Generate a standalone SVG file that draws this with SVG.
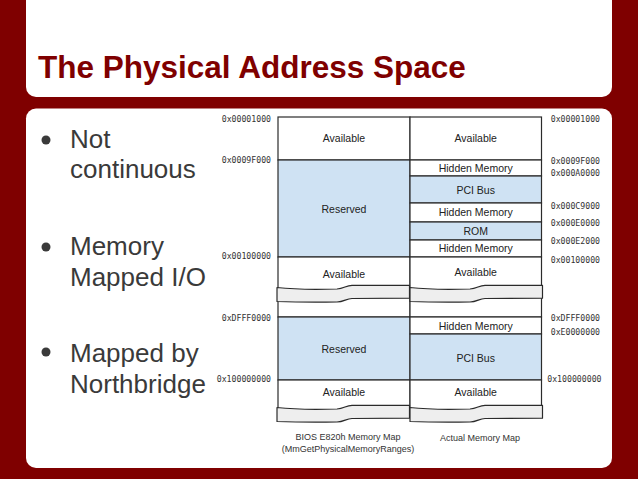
<svg xmlns="http://www.w3.org/2000/svg" width="638" height="479" viewBox="0 0 638 479">
<style>
.bg{fill:#7f0000}
.panel{fill:#ffffff}
.title{font-family:"Liberation Sans",Arial,sans-serif;font-weight:bold;font-size:31.5px;fill:#7f0000}
.body{font-family:"Liberation Sans",Arial,sans-serif;font-size:26px;fill:#3a3a3a}
.dot{fill:#3a3a3a}
.cell{stroke:#2b2b2b;stroke-width:1.2}
.w{fill:#ffffff}
.b{fill:#cfe2f3}
.lbl{font-family:"Liberation Sans",Arial,sans-serif;font-size:10.5px;fill:#222;text-anchor:middle}
.addr{font-family:"DejaVu Sans Mono","Liberation Mono",monospace;font-size:8.2px;fill:#333;text-anchor:end}
.brk{fill:#eeeeee;stroke:#2b2b2b;stroke-width:1.2;stroke-linejoin:round}
.cap{font-family:"Liberation Sans",Arial,sans-serif;font-size:9px;fill:#333;text-anchor:middle}
</style>
<defs>
<path id="brk" d="M277,287.5 C290,289 320,289.5 337,289 C344,288.5 346,285.5 352,285.3 L409.5,285.3 L409.5,298.2 L352,298.5 C346,298.7 344,302 337,302 C320,302.3 290,302 277,301.5 Z"/>
</defs>
<rect class="bg" x="0" y="0" width="638" height="479"/>
<rect class="panel" x="26" y="-20" width="586" height="117" rx="10"/>
<rect class="panel" x="26" y="108.5" width="586" height="359.5" rx="10"/>
<text class="title" x="38" y="78">The Physical Address Space</text>

<g id="bullets">
<circle class="dot" cx="46" cy="140" r="4.5"/>
<text class="body" x="70" y="148">Not</text>
<text class="body" x="70" y="178">continuous</text>
<circle class="dot" cx="46" cy="247" r="4.5"/>
<text class="body" x="70" y="255">Memory</text>
<text class="body" x="70" y="286">Mapped I/O</text>
<circle class="dot" cx="46" cy="352" r="4.5"/>
<text class="body" x="70" y="362">Mapped by</text>
<text class="body" x="70" y="393">Northbridge</text>
</g>

<g id="bios-map">
<g id="l-avail1"><rect class="cell w" x="278" y="117" width="132" height="43"/><text class="lbl" x="344" y="141.7">Available</text></g>
<g id="l-reserved1"><rect class="cell b" x="278" y="160" width="132" height="97"/><text class="lbl" x="344" y="212.7">Reserved</text></g>
<g id="l-avail2"><rect class="cell w" x="278" y="257" width="132" height="60"/><text class="lbl" x="344" y="277.5">Available</text></g>
<g id="l-reserved2"><rect class="cell b" x="278" y="317" width="132" height="63"/><text class="lbl" x="344" y="353">Reserved</text></g>
<g id="l-avail3"><rect class="cell w" x="278" y="380" width="132" height="34"/><text class="lbl" x="344" y="395.5">Available</text></g>
</g>

<g id="actual-map">
<g id="r-avail1"><rect class="cell w" x="410" y="117" width="131.5" height="43"/><text class="lbl" x="475.7" y="141.7">Available</text></g>
<g id="r-hidden1"><rect class="cell w" x="410" y="160" width="131.5" height="16"/><text class="lbl" x="475.7" y="171.7">Hidden Memory</text></g>
<g id="r-pci1"><rect class="cell b" x="410" y="176" width="131.5" height="27"/><text class="lbl" x="475.7" y="193.7">PCI Bus</text></g>
<g id="r-hidden2"><rect class="cell w" x="410" y="203" width="131.5" height="19"/><text class="lbl" x="475.7" y="216.2">Hidden Memory</text></g>
<g id="r-rom"><rect class="cell b" x="410" y="222" width="131.5" height="18"/><text class="lbl" x="475.7" y="234.7">ROM</text></g>
<g id="r-hidden3"><rect class="cell w" x="410" y="240" width="131.5" height="17"/><text class="lbl" x="475.7" y="252.3">Hidden Memory</text></g>
<g id="r-avail2"><rect class="cell w" x="410" y="257" width="131.5" height="60"/><text class="lbl" x="475.7" y="276.4">Available</text></g>
<g id="r-hidden4"><rect class="cell w" x="410" y="317" width="131.5" height="17"/><text class="lbl" x="475.7" y="329.7">Hidden Memory</text></g>
<g id="r-pci2"><rect class="cell b" x="410" y="334" width="131.5" height="46"/><text class="lbl" x="475.7" y="361.7">PCI Bus</text></g>
<g id="r-avail3"><rect class="cell w" x="410" y="380" width="131.5" height="34"/><text class="lbl" x="475.7" y="395.5">Available</text></g>
</g>

<g id="breaks">
<use href="#brk" class="brk"/>
<use href="#brk" class="brk" transform="translate(133,0)"/>
<use href="#brk" class="brk" transform="translate(0,120)"/>
<use href="#brk" class="brk" transform="translate(133,120)"/>
</g>

<g id="addresses-left">
<text class="addr" x="271" y="122">0x00001000</text>
<text class="addr" x="271" y="163">0x0009F000</text>
<text class="addr" x="271" y="259">0x00100000</text>
<text class="addr" x="271" y="320.7">0xDFFF0000</text>
<text class="addr" x="271" y="382">0x100000000</text>
</g>

<g id="addresses-right">
<text class="addr" x="600" y="122">0x00001000</text>
<text class="addr" x="600" y="163.5">0x0009F000</text>
<text class="addr" x="600" y="176">0x000A0000</text>
<text class="addr" x="600" y="208.7">0x000C9000</text>
<text class="addr" x="600" y="226">0x000E0000</text>
<text class="addr" x="600" y="244">0x000E2000</text>
<text class="addr" x="600" y="263">0x00100000</text>
<text class="addr" x="600" y="320.7">0xDFFF0000</text>
<text class="addr" x="600" y="334.7">0xE0000000</text>
<text class="addr" x="601.5" y="381.7">0x100000000</text>
</g>

<g id="captions">
<text class="cap" x="348" y="440">BIOS E820h Memory Map</text>
<text class="cap" x="348" y="451.5">(MmGetPhysicalMemoryRanges)</text>
<text class="cap" x="480" y="441">Actual Memory Map</text>
</g>
</svg>
